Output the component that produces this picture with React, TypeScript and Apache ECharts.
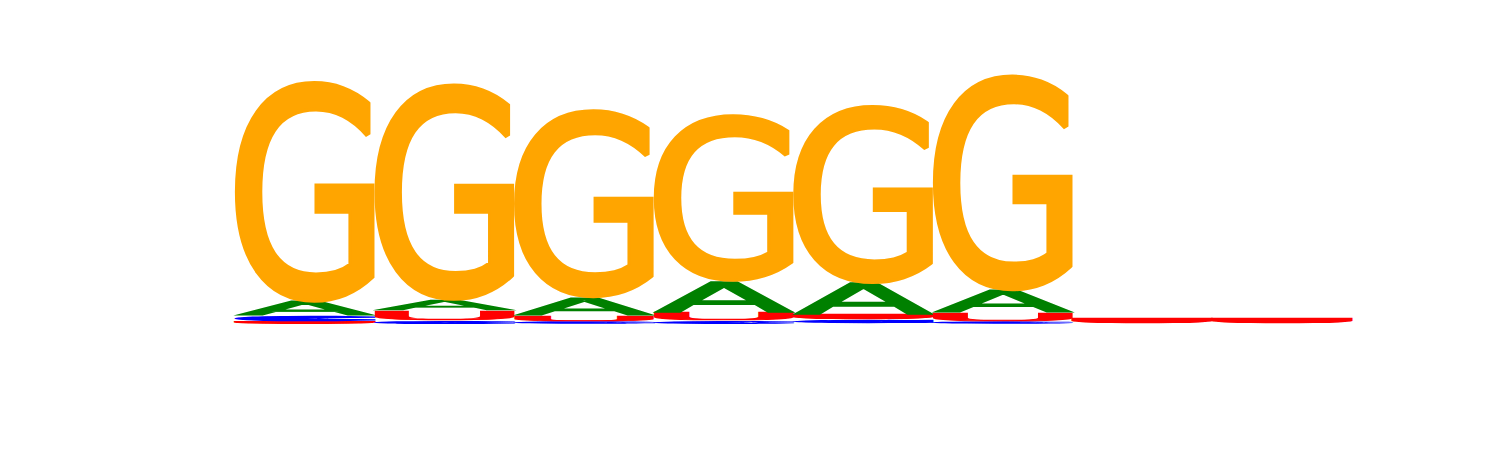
import { useEffect, useRef } from "react";
import * as echarts from "echarts";
import type { ECharts } from "echarts";

// positions of the motif and information content (bits) of each base at each position
const positions = ["1", "2", "3", "4", "5", "6", "7", "8"];
const bases = ["A", "C", "G", "U"];
const bitsA = [0.105, 0.08, 0.129, 0.227, 0.23, 0.163, 0, 0];
const bitsC = [0.038, 0.024, 0.017, 0.022, 0.03, 0.014, 0, 0];
const bitsG = [1.598, 1.567, 1.356, 1.206, 1.292, 1.562, 0, 0];
const bitsU = [0.019, 0.072, 0.045, 0.057, 0.033, 0.065, 0.032, 0.032];
const yMax = 2;

const bitsByBase: Record<string, number[]> = { A: bitsA, C: bitsC, G: bitsG, U: bitsU };
const colors: Record<string, string> = { A: "#008000", C: "#0000ff", G: "#ffa500", U: "#ff0000" };

const FONT_FAMILY = '"DejaVu Sans"';
const FONT_WEIGHT = "normal";
const FONT_SIZE = 100;
const FONT = `${FONT_WEIGHT} ${FONT_SIZE}px ${FONT_FAMILY}`;
const WIDTH_FRAC = 1.02;

type GlyphBox = { left: number; right: number; top: number; bottom: number };

// outline in glyph units: thickens the book face a little, and fills letters squashed to a few pixels
function strokeFor(hPx: number): number {
    const h = Math.max(hPx, 1);
    return 2.5 + 25 / h + (h < 6 ? 400 / h : 0);
}

// where the alphabetic baseline sits below the svg "central" baseline zrender uses
function svgCentralOffset(): number {
    const ns = "http://www.w3.org/2000/svg";
    const svg = document.createElementNS(ns, "svg");
    svg.setAttribute("width", "400");
    svg.setAttribute("height", "400");
    svg.style.position = "absolute";
    svg.style.left = "-2000px";
    svg.style.top = "0";
    const mk = (db: string) => {
        const t = document.createElementNS(ns, "text");
        t.setAttribute("x", "0");
        t.setAttribute("y", "200");
        t.setAttribute("dominant-baseline", db);
        t.style.font = FONT;
        t.textContent = "H";
        svg.appendChild(t);
        return t;
    };
    const alpha = mk("alphabetic");
    const central = mk("central");
    document.body.appendChild(svg);
    const off = central.getBBox().y - alpha.getBBox().y;
    document.body.removeChild(svg);
    return off;
}

// ink box of each glyph, around the centre anchor and the central baseline
function measureGlyphs(): Record<string, GlyphBox> {
    const off = svgCentralOffset();
    const ctx = document.createElement("canvas").getContext("2d")!;
    ctx.font = FONT;
    ctx.textAlign = "center";
    ctx.textBaseline = "alphabetic";
    const out: Record<string, GlyphBox> = {};
    for (const b of bases) {
        const m = ctx.measureText(b);
        out[b] = {
            left: m.actualBoundingBoxLeft,
            right: m.actualBoundingBoxRight,
            top: off - m.actualBoundingBoxAscent,
            bottom: off + m.actualBoundingBoxDescent,
        };
    }
    return out;
}

export default function App() {
    const chartRef = useRef<HTMLDivElement | null>(null);
    const chartInstance = useRef<ECharts | null>(null);

    useEffect(() => {
        if (!chartRef.current) return;

        const chart = echarts.init(chartRef.current, undefined, { renderer: "svg" });
        chartInstance.current = chart;
        const glyphs = measureGlyphs();

        const option: echarts.EChartsOption = {
            animation: false,
            backgroundColor: "#ffffff",
            grid: { left: 235, right: 148.2, top: 45, bottom: 126.3 },
            xAxis: { type: "category", data: positions, show: false },
            yAxis: { type: "value", min: 0, max: yMax, show: false },
            series: [
                {
                    type: "custom",
                    clip: false,
                    silent: true,
                    data: positions.map((_, i) => [i]),
                    encode: { x: 0 },
                    renderItem: (params: any, api: any) => {
                        const i = api.value(0) as number;
                        const bw = (api.size([1, 0]) as number[])[0];
                        const cx = api.coord([i, 0])[0];
                        const stack = bases
                            .map((b) => ({ b, h: bitsByBase[b][i] }))
                            .filter((d) => d.h > 0)
                            .sort((a, b) => a.h - b.h);
                        let cum = 0;
                        const children: any[] = [];
                        for (const d of stack) {
                            const yBot = api.coord([i, cum])[1];
                            const yTop = api.coord([i, cum + d.h])[1];
                            cum += d.h;
                            const g = glyphs[d.b];
                            const hPx = yBot - yTop;
                            const w = bw * WIDTH_FRAC;
                            // the outline grows the ink box by half its width on each side
                            const lw = strokeFor(hPx);
                            const sy = hPx / (g.bottom - g.top + lw);
                            const sx = w / (g.left + g.right + lw);
                            children.push({
                                type: "text",
                                x: cx - w / 2 + sx * (g.left + lw / 2),
                                y: yBot - sy * (g.bottom + lw / 2),
                                scaleX: sx,
                                scaleY: sy,
                                style: {
                                    text: d.b,
                                    fill: colors[d.b],
                                    stroke: colors[d.b],
                                    lineWidth: lw,
                                    lineJoin: "round",
                                    fontFamily: FONT_FAMILY,
                                    fontWeight: FONT_WEIGHT,
                                    fontSize: FONT_SIZE,
                                    align: "center",
                                    verticalAlign: "middle",
                                    textAlign: "center",
                                    textVerticalAlign: "middle",
                                },
                            });
                        }
                        return { type: "group", children };
                    },
                },
            ],
        };

        chart.setOption(option);

        return () => {
            chart.dispose();
        };
    }, []);

    return (
        <div
            ref={chartRef}
            style={{ position: "fixed", left: 0, top: 0, width: 1500, height: 450 }}
        />
    );
}
